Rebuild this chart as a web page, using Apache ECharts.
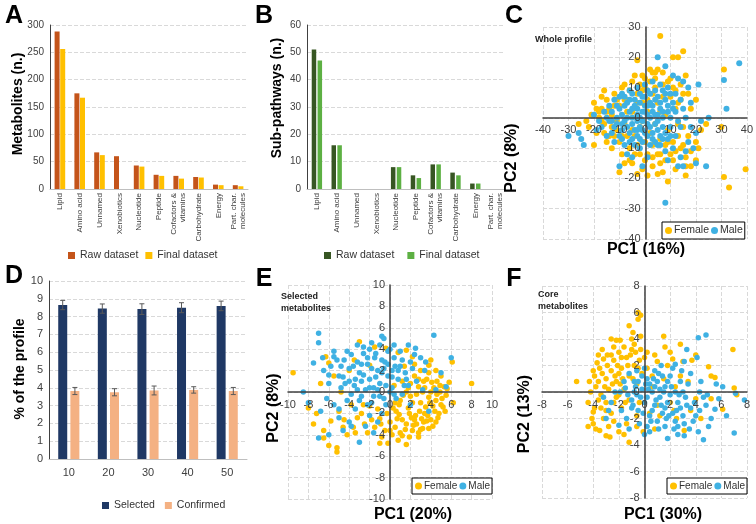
<!DOCTYPE html>
<html><head><meta charset="utf-8">
<script src="https://cdn.jsdelivr.net/npm/echarts@6/dist/echarts.min.js"></script>
<style>html,body{margin:0;padding:0;background:#fff}#c{width:756px;height:524px}</style>
</head><body><div id="c"></div>
<script>
// ---------- DATA ----------
var aCats = ['Lipid','Amino acid','Unnamed','Xenobiotics','Nucleotide','Peptide','Cofactors &\nvitamins','Carbohydrate','Energy','Part. char.\nmolecules'];
var aRaw = [288,175,67,60,43,26,24,22,8,7];
var aFinal = [256,167,62,0,41,24,19,21,7,5];
var bRaw = [51,16,0,0,8,5,9,6,2,0];
var bFinal = [47,16,0,0,8,4,9,5,2,0];
var dCats = ['10','20','30','40','50'];
var dSelected = [8.65,8.45,8.42,8.5,8.6];
var dSelectedErr = [0.26,0.26,0.3,0.28,0.27];
var dConfirmed = [3.82,3.75,3.85,3.88,3.82];
var dConfirmedErr = [0.2,0.2,0.25,0.18,0.2];

var cFemale = [[6,27],[15,22],[11,20],[13,20],[-3,19],[5,16],[7,15],[2,16],[3,15],[-1,14],[0,13],[4,13],[31,16],[16,14],[14,11],[17,8],[20,6],[18,3],[22,-4],[20,-8],[21,-10],[20,-14],[16,-16],[16,-19],[12,-17],[9,-21],[7,-18],[5,-18.5],[1,-19],[-1,-17],[-3,-18.5],[-10,-18],[3,-13],[-2,-12],[6,-12],[10,-12],[14,-10],[17,-6],[15,-3],[30,-3],[31,-19.5],[33,-23],[39.5,-17],[-26,-2],[-20,-9],[-22,-3],[-20,5],[-18,0],[-17,3],[-16,-2],[-15,6],[-14,-6],[-13,1],[-12,8],[-11,-4],[-10,4],[-10,-8],[-9,10],[-8,-2],[-7,6],[-6,-10],[-5,12],[-5,2],[-4,-6],[-3,8],[-2,-3],[-1,5],[0,-8],[0,10],[1,2],[2,-5],[3,8],[4,-2],[5,5],[6,-7],[7,11],[8,1],[9,-4],[10,7],[11,-8],[12,3],[13,-2],[-19,-5],[-17,7],[-15,-8],[-13,-10],[-12,4],[-9,-12],[-7,-6],[-6,9],[-4,-12],[-2,11],[1,-12],[2,12],[8,-9],[9,12],[12,9],[14,6],[-18,2],[-14,3],[-8,6],[-3,-9],[4,10],[11,-14],[-21,1],[-16,9],[-11,-1],[-1,-1],[6,2],[13,5],[15,-9],[-23,-1],[-8,-15],[18,-11],[24,-2],[-5,-15],[3,-16],[8,-14],[-19,3],[-17,-1],[-15,2],[-13,-3],[-11,6],[-9,-6],[-7,2],[-5,-4],[-3,5],[-1,9],[1,6],[3,-9],[5,-12],[7,7],[9,-8],[11,10],[13,-6],[15,8],[-16,-5],[-12,-6],[-8,11],[-4,14],[4,15],[10,13],[16,-13],[18,-16],[-6,-14],[0,-14],[6,-15],[12,-11]];
var cMale = [[37,18],[31,12.5],[32,3],[21,11],[25,0],[22,-1],[20,-15],[24,-16],[8,-28],[-30,-6],[-26,-5],[-25,-7],[-24,-9],[5,20],[8,17],[-10,-16],[-1,-16],[-2,-10],[13,-16],[15,-16],[-5,-13],[15,12],[13,13],[11,14],[17,10],[18,-3],[19,-10],[16,-11],[14,-13],[11,-10],[8,-11],[5,-9],[2,-9],[-1,-8],[-4,-9],[-8,-9],[-12,-8],[-15,-6],[-17,-3],[-18,-1],[-16,2],[-14,4],[-12,6],[-9,8],[-6,9],[-3,10],[0,11],[3,12],[6,11],[9,10],[12,8],[14,6],[15,3],[16,0],[14,-3],[12,-6],[9,-7],[6,-6],[3,-5],[0,-5],[-3,-6],[-6,-5],[-9,-4],[-12,-3],[-14,-1],[-13,2],[-10,3],[-7,5],[-4,6],[-1,7],[2,8],[5,7],[8,6],[11,5],[12,2],[13,-1],[10,-3],[7,-3],[4,-2],[1,-2],[-2,-3],[-5,-2],[-8,-1],[-11,0],[-9,1],[-6,2],[-3,3],[0,4],[3,4],[6,3],[9,2],[10,0],[7,0],[4,1],[1,1],[-2,0],[-5,0],[-7,-3],[-4,-4],[-1,-4],[2,-3],[5,-4],[8,-5],[-10,-6],[-6,-8],[-2,-7],[3,-7],[6,-9],[-15,0],[-13,-5],[-11,4],[-8,7],[-5,8],[-2,5],[1,9],[4,9],[7,9],[10,8],[0,2],[2,0],[-1,-1],[-3,1],[5,-1],[-19,-4],[-20,1],[18,5],[20,-5],[-7,-12],[1,-13],[9,-14],[17,-8],[-13,-1],[-11,-2],[-9,-2],[-7,0],[-5,3],[-3,-1],[-1,2],[1,4],[3,2],[5,1],[7,2],[9,4],[11,3],[-10,7],[-8,4],[-6,6],[-4,4],[-2,8],[0,7],[2,5],[4,6],[6,5],[8,8],[-9,-7],[-5,-7],[-3,-4],[1,-6],[4,-8],[7,-7],[10,-6]];

var eFemale = [[-9.5,1.8],[8,0.8],[6.1,2.8],[6.2,-1],[1.6,-4.9],[-5.2,-5.2],[-5.2,-5.6],[-6.5,-4.3],[-7.2,-2],[-6.3,3.3],[-3,4.7],[-1.5,4.2],[-0.4,4.1],[0.8,3.7],[1.6,3.9],[2.2,3.3],[3.8,2.5],[4.5,2],[5,1.5],[5.3,0.5],[5.5,-0.3],[5,-1.2],[4.8,-2],[4.5,-2.8],[3.8,-3.4],[3,-3.5],[2.2,-3.6],[1,-3.8],[0.2,-4],[-0.8,-4.2],[-1.5,-3.3],[-2.5,-3],[-3.6,-3.3],[-4.5,-2.6],[-5,-1.8],[-5.8,-2.7],[-6.5,-3.6],[-6.8,0.8],[-6,2.7],[-4.8,0],[-3.8,-1.2],[-2.8,-2],[-2,-1.3],[-1,-2.5],[0,-2.8],[0.6,-1.8],[1.2,-2.6],[1.8,-1.5],[2.5,-2.2],[3,-1],[3.4,-2],[3.8,-0.5],[4.2,-1.3],[4.3,0.4],[4.6,1],[3.6,1.2],[2.8,0.5],[2.4,1.5],[1.6,0],[1,-0.8],[0.4,0.6],[2,-0.4],[3.2,0],[4,0],[4.9,0],[2.6,-3],[3.6,-2.7],[1.6,-3],[0.5,-3.3],[-0.5,-3.6],[3,2],[4,3],[1.4,2.4],[-1.2,-1.6],[-2.2,-3.8],[-4.2,-4],[-3.2,-2.4],[5.4,-1.8],[4.2,-3.2],[2.8,-4.2],[0.8,-4.5],[-0.2,-4.8],[2,0.8],[2.8,1.2],[3.5,-1.4],[4.5,-0.8],[1.2,1],[3.3,-2.8],[-7.5,-3],[-8,-1.5],[-6,-5],[-4,2],[-2,2.5],[-5.5,1.5],[-3.5,3],[2.4,-2.6],[1.9,-2],[0.9,-1.2],[5.8,0.9],[0.5,-1],[1.3,-0.3],[2.2,-1],[2.9,-1.8],[3.7,-2.2],[4.4,-1.8],[5.1,-0.6],[4.7,-2.4],[3.9,-1],[3.1,-2.5],[2.3,-3.1],[1.5,-3.5],[0.7,-2.5],[0,-3.6],[-0.9,-3],[1.9,-4.2],[2.8,-3.8],[4,-2.6],[4.9,0.6],[4.1,0.9],[3.4,0.4],[2.6,-0.2],[1.8,0.4],[0.9,-2.1],[0.3,-1.5],[5.2,-1.4],[5.6,0.3],[4.6,-0.2],[3.8,1.8],[2.4,2.6],[3.2,-3.4],[1.2,-4.1],[-0.3,-2],[-1.8,-2.6],[-2.6,-1.2],[-3.4,-3.8],[-4.6,-3.3],[-1,-4.8],[3.3,1],[2.1,-2.4]];
var eMale = [[-7,5.5],[-7,4.6],[-5.5,3.8],[-5.5,3.3],[-7.5,2.7],[-8.5,0],[-6.5,2],[-6,0.8],[-7,-4.3],[-6,-4],[-3,-4.7],[-8,-1],[-5.5,-1.2],[4.3,5.3],[6,3.2],[5.5,0.5],[0,4],[-1.8,4.6],[-0.8,5.2],[-0.6,5],[2.5,4.1],[-5,1.5],[-4.5,3],[-4,2.2],[-3.8,3.5],[-3.2,2.8],[-3,1.8],[-2.6,3.6],[-2.2,2.6],[-2,1.2],[-1.5,3.2],[-1.2,2],[-1,0.8],[-0.5,2.8],[-0.2,1.5],[0.2,0.4],[0.5,2.4],[0.8,1.2],[1.2,3],[1.5,1.8],[1.8,0.6],[2.2,2.2],[2.6,1],[3,3.2],[3.5,2.8],[3.2,0.2],[-4.8,0.4],[-4.2,-0.8],[-3.5,0.6],[-2.8,-0.4],[-2.4,0.2],[-1.8,-1],[-1,-0.4],[-0.4,-1.2],[0,0],[0.6,-0.6],[1.2,-0.2],[-3.4,-1.6],[-2,-2.2],[-1.2,-2.8],[-4.6,1.4],[-3.8,-0.2],[-2.6,1.6],[-1.6,0.4],[-0.8,1.8],[0.4,3.2],[-0.2,3.8],[-4.2,3.8],[-2.6,4.2],[1,3.8],[2,2.8],[-5.8,2.4],[-6.2,-0.6],[-5,-2.4],[-4.6,-3.6],[-2.4,-3.2],[-1.6,-3.8],[-0.6,2.2],[0.2,2],[1.4,0.6],[-1.4,1.4],[-2.2,3.2],[-3.4,1.2],[3.8,-1.8],[4.5,0.2],[2,-1.2],[-5,-1.6],[-3.2,4.4],[-6.8,-1.8],[-4,-2.8],[3.4,2],[5,1.8],[-0.8,-2],[-6.6,3.2],[-6,1.6],[-3.6,2.4],[-2.8,1],[-2,0.4],[-1.2,0.2],[-0.4,0.6],[0.8,2],[-0.2,2.6],[-1.8,2.2],[-2.8,2.6],[-3.2,0.2],[-4,1],[-4.4,0.8],[-1.4,3.6],[-0.8,3],[0.2,1.4],[1,2.4],[-2.2,-1.2],[-3,-0.8],[-1.6,-0.4],[-0.6,-0.6],[0.4,-0.2],[1.6,1.2],[2.4,3.5],[-5.2,3],[-4.8,2.4],[-2,4],[-1,4.4],[0.4,4.4],[1.8,4.4],[-3.8,-3.2]];

var fFemale = [[-5.3,0.8],[-0.5,6],[-0.3,5.8],[-0.5,5.5],[-1.2,5],[-0.9,4.5],[-0.3,4.2],[-1,4],[-2.6,4],[-2.2,3.9],[-1.9,3.9],[1.5,4.2],[6.9,3.2],[5,1.9],[5.2,1.2],[5.5,1.1],[7,0.3],[7.2,-0.2],[5.2,-0.5],[6.1,-1.3],[-1.2,-3.8],[-3,-3.3],[-2,-3],[-4,-1.5],[-4,-2.4],[-3.8,-2.8],[-0.1,-3],[3.1,-2.9],[4,-0.5],[2.5,-2],[1.5,1],[1.8,2],[1,2.3],[0.8,2.8],[2,3],[2.2,2.5],[3,2.3],[3.7,2.4],[4,2.8],[2.4,0.4],[-3.5,1.8],[-3.2,2.5],[-3,1],[-2.8,0.2],[-2.6,1.6],[-2.4,2.4],[-2.2,0.8],[-2,3],[-1.8,1.8],[-1.6,0.2],[-1.4,2.6],[-1.2,1.2],[-1,3.2],[-0.8,2],[-0.6,0.6],[-0.4,2.4],[-0.2,1.4],[0,2.6],[0.2,1.8],[-3.8,0.4],[-3.6,-0.6],[-3.4,-1.2],[-3,-0.8],[-2.6,-1.6],[-2.2,-0.4],[-1.8,-1.2],[-3.9,1.2],[-3.3,3.2],[-2.9,2.8],[-1.6,3.4],[-2.4,-2.2],[-1.4,-2.4],[-3.2,-2],[-2.8,-2.6],[-0.6,-1.8],[0.4,-1.6],[1,-1],[-4.2,0],[-4.4,-0.8],[-3.7,2.2],[-2,1.4],[-1.2,-0.6],[-0.4,-0.8],[0.6,0.4],[1.2,-1.8],[2,-0.8],[2.8,1.2],[3.4,0.8],[0.2,3],[-0.8,3.6],[-4,1.6],[-4.1,-2],[-2.7,-3.4],[-1.6,-3.2],[-0.6,-2.6],[0.8,-2.8],[3.6,-1.4],[4.4,-2],[2.3,-1.4],[-2.4,3.4],[-3.6,0.8],[-3.3,1.4],[-2.9,2],[-2.5,0.6],[-2.1,2],[-1.7,1],[-1.3,2],[-0.9,1],[-0.5,1.8],[-3.4,-0.2],[-3,-1.4],[-2.4,-0.8],[-2.6,2.8],[-1.8,2.6],[-1.1,2.8],[-0.7,3],[-3.9,-1.2],[-4.3,0.8],[-3.1,0.4],[-2,-0.2],[-1.5,-0.8],[-2.3,1.2],[-1.9,0.6],[-3.6,2.8],[-0.3,3.2],[-4.4,-2.6],[-3.5,-2.9],[1.6,3.4],[2.8,3.6],[0.6,1.2]];
var fMale = [[4.8,4.3],[4.2,4.1],[3.3,3.2],[4.1,2.6],[3.1,2.3],[2.4,2.1],[1.3,2],[6.1,0.4],[7.1,-0.1],[7.8,-0.6],[5.8,-0.5],[4.3,0],[4.8,-1],[5.5,-1.3],[5,-2.6],[4.2,-3],[2.6,-3.2],[3.1,-3.3],[1.8,-3.5],[4.6,-3.6],[7,-3.1],[-2,-2.5],[-3,-2],[-2.3,0],[-1.5,0.3],[-1,-0.6],[-0.8,0.8],[-0.5,-1.4],[-0.2,0.2],[0,-0.8],[0.2,1],[0.4,-1.8],[0.6,0],[0.8,-1],[1,0.8],[1.2,-0.4],[1.4,-1.6],[1.6,0.4],[1.8,-0.8],[2,1.2],[2.2,-1.6],[2.4,0],[2.6,-0.8],[2.8,0.8],[3,-1.8],[3.2,-0.4],[3.4,0.6],[3.6,-1.2],[3.8,-2.2],[-1.8,-1.4],[-1.4,-2],[-1.2,1.4],[-0.6,1.6],[0,1.8],[0.4,0.6],[0.8,1.6],[-0.4,-2.4],[0.2,-2.6],[1,-2.2],[1.6,-2.6],[2.4,-2.2],[-0.6,-0.2],[0.2,-0.4],[1.2,0.2],[2,-0.2],[-1,-1.2],[0.6,-1.4],[1.6,-1.2],[2.8,-1.2],[-2.6,-0.8],[-1.6,0.8],[-0.2,1.2],[3.6,1.4],[4.4,0.8],[4,-1.8],[5.2,-2],[2.2,1.8],[1.8,0.8],[-1.2,-2.8],[0.4,-3],[2.6,-2.6],[4.6,-0.4],[6.4,-1.8],[3,0],[-2.8,-1.4],[-3.2,-0.4],[0.8,0.4],[1.4,1.2],[-0.8,0],[5.6,0.6],[-0.9,-1],[-0.3,-0.4],[0.3,0.2],[0.9,-0.6],[1.5,0],[2.1,0.4],[2.7,-0.2],[3.3,-1],[-0.7,0.4],[0.1,0.6],[0.7,1],[1.3,-1],[1.9,-1.8],[2.5,-1.4],[3.1,-2.4],[-0.1,-1.6],[0.5,-2.2],[1.1,-2.8],[1.7,-2],[2.3,-2.8],[-1.3,-0.2],[-1.9,0],[3.9,-0.8],[4.3,-1.4],[4.9,-0.2],[3.5,-2.8],[2.9,1.6],[0,-3.2],[-0.5,0.8],[1.1,1.4]];

// ---------- STYLE ----------
var FONT = 'Liberation Sans, Arial, sans-serif';
var FEMALE = '#FFC000', MALE = '#3FB1E3';
var GRIDC = '#D9D9D9', TXT = '#404040';
var GRIDS = [
  {left:50, top:25, width:198, height:164},
  {left:307, top:25, width:198, height:164},
  {left:543, top:27, width:205, height:212},
  {left:49, top:281, width:198, height:178},
  {left:288, top:285, width:204, height:214},
  {left:542, top:286, width:205, height:212}
];

function catX(gi, data, rot) {
  return {type:'category', gridIndex:gi, data:data,
    axisLine:{show:true, lineStyle:{color:'#BFBFBF'}}, axisTick:{show:false},
    axisLabel: rot ? {rotate:90, interval:0, fontSize:8, color:TXT, margin:4, lineHeight:9, fontFamily:FONT}
                   : {fontSize:11, color:TXT, margin:8, fontFamily:FONT}};
}
function valY(gi, max, interval, fs) {
  return {type:'value', gridIndex:gi, min:0, max:max, interval:interval,
    axisLine:{show:true, lineStyle:{color:'#404040'}}, axisTick:{show:false},
    axisLabel:{fontSize:fs, color:TXT, margin:6, fontFamily:FONT},
    splitLine:{show:true, lineStyle:{color:GRIDC, type:'dashed'}}};
}
// scatter grid axis: dashed grid only (below the points)
function sGrid(gi, dim, min, max, interval) {
  return {type:'value', gridIndex:gi, min:min, max:max, interval:interval, z:0,
    position: dim === 'x' ? 'bottom' : 'left',
    axisLine:{show:false}, axisTick:{show:false}, axisLabel:{show:false},
    splitLine:{show:true, lineStyle:{color:GRIDC, type:'dashed'}}};
}
// scatter axis line + labels, crossing at the other axis' zero, drawn above the points
function sAxis(gi, dim, min, max, interval, oMin, oMax) {
  var g = GRIDS[gi];
  var span = dim === 'x' ? g.height : g.width;
  var off = -span * (0 - oMin) / (oMax - oMin);
  return {type:'value', gridIndex:gi, min:min, max:max, interval:interval, z:10,
    position: dim === 'x' ? 'bottom' : 'left', offset: off,
    axisLine:{show:true, onZero:false, lineStyle:{color:'#404040', width:1.5}}, axisTick:{show:false},
    axisLabel:{fontSize:11, color:TXT, margin: dim === 'x' ? 7 : 5, fontFamily:FONT},
    splitLine:{show:false}};
}
function scat(name, gi, data, color, size) {
  return {type:'scatter', name:name, xAxisIndex:gi, yAxisIndex:gi, data:data, symbolSize:size,
    itemStyle:{color:color, opacity:1}};
}
function errBar(name, vals, errs, off) {
  return {type:'custom', name:name, xAxisIndex:3, yAxisIndex:3, z:5,
    data: vals.map(function(v,i){return [i, v-errs[i], v+errs[i]];}),
    encode:{x:0, y:[1,2]},
    renderItem:function(p, api){
      var i = api.value(0);
      var lo = api.coord([i, api.value(1)]), hi = api.coord([i, api.value(2)]);
      var x = lo[0] + off, c = 2.5;
      var st = {stroke:'#595959', lineWidth:1};
      return {type:'group', children:[
        {type:'line', shape:{x1:x, y1:lo[1], x2:x, y2:hi[1]}, style:st},
        {type:'line', shape:{x1:x-c, y1:lo[1], x2:x+c, y2:lo[1]}, style:st},
        {type:'line', shape:{x1:x-c, y1:hi[1], x2:x+c, y2:hi[1]}, style:st}]};
    }};
}
function lbl(text, x, y, size, rot, align) {
  return {type:'text', x:x, y:y, rotation:rot||0, z:100,
    style:{text:text, font:'bold '+size+'px '+FONT, fill:'#000', align:align||'center', verticalAlign:'middle'}};
}
function small(text, x, y) {
  return {type:'text', x:x, y:y, z:100,
    style:{text:text, font:'bold 9px '+FONT, fill:'#222', align:'left', verticalAlign:'middle', lineHeight:12}};
}
function strip(n){ return n.split('|')[0]; }
function sLegend(data, left, top, fs) {
  return {data:data, left:left, top:top, icon:'circle', itemWidth:7, itemHeight:7, itemGap:2,
    formatter:strip, borderColor:'#000', borderWidth:1, backgroundColor:'#fff', padding:[3,2,3,3],
    textStyle:{fontSize:fs, color:'#333', fontFamily:FONT, padding:[0,0,0,-3]}, selectedMode:false};
}

var option = {
  animation:false,
  textStyle:{fontFamily:FONT},
  grid: GRIDS,
  xAxis:[
    catX(0, aCats, true), catX(1, aCats, true), sGrid(2,'x',-40,40,10),
    catX(3, dCats, false), sGrid(4,'x',-10,10,2), sGrid(5,'x',-8,8,2),
    sAxis(2,'x',-40,40,10,-40,30), sAxis(4,'x',-10,10,2,-10,10), sAxis(5,'x',-8,8,2,-8,8)
  ],
  yAxis:[
    valY(0,300,50,10), valY(1,60,10,10), sGrid(2,'y',-40,30,10),
    valY(3,10,1,11), sGrid(4,'y',-10,10,2), sGrid(5,'y',-8,8,2),
    sAxis(2,'y',-40,30,10,-40,40), sAxis(4,'y',-10,10,2,-10,10), sAxis(5,'y',-8,8,2,-8,8)
  ],
  legend:[
    {data:['Raw dataset|A','Final dataset|A'], left:63, top:245, icon:'rect', itemWidth:7, itemHeight:7, itemGap:7,
      formatter:strip, textStyle:{fontSize:10.5, color:'#333', fontFamily:FONT}, selectedMode:false},
    {data:['Raw dataset|B','Final dataset|B'], left:319, top:245, icon:'rect', itemWidth:7, itemHeight:7, itemGap:13,
      formatter:strip, textStyle:{fontSize:10.5, color:'#333', fontFamily:FONT}, selectedMode:false},
    {data:['Selected|D','Confirmed|D'], left:97, top:495, icon:'rect', itemWidth:7, itemHeight:7, itemGap:10,
      formatter:strip, textStyle:{fontSize:10.5, color:'#333', fontFamily:FONT}, selectedMode:false},
    sLegend(['Female|C','Male|C'], 662, 222, 10.5),
    sLegend(['Female|E','Male|E'], 412, 478, 10),
    sLegend(['Female|F','Male|F'], 667, 478, 10)
  ],
  series:[
    {type:'bar', name:'Raw dataset|A', xAxisIndex:0, yAxisIndex:0, data:aRaw, barWidth:5, barGap:'12%', itemStyle:{color:'#C4541A'}},
    {type:'bar', name:'Final dataset|A', xAxisIndex:0, yAxisIndex:0, data:aFinal, barWidth:5, itemStyle:{color:'#FFC000'}},
    {type:'bar', name:'Raw dataset|B', xAxisIndex:1, yAxisIndex:1, data:bRaw, barWidth:4.5, barGap:'30%', itemStyle:{color:'#375623'}},
    {type:'bar', name:'Final dataset|B', xAxisIndex:1, yAxisIndex:1, data:bFinal, barWidth:4.5, itemStyle:{color:'#5DB043'}},
    {type:'bar', name:'Selected|D', xAxisIndex:3, yAxisIndex:3, data:dSelected, barWidth:9, barGap:'35%', itemStyle:{color:'#1F3864'}},
    {type:'bar', name:'Confirmed|D', xAxisIndex:3, yAxisIndex:3, data:dConfirmed, barWidth:9, itemStyle:{color:'#F4B183'}},
    errBar('errSel', dSelected, dSelectedErr, -6.1),
    errBar('errConf', dConfirmed, dConfirmedErr, 6.1),
    scat('Female|C', 2, cFemale, FEMALE, 6), scat('Male|C', 2, cMale, MALE, 6),
    scat('Female|E', 4, eFemale, FEMALE, 5.5), scat('Male|E', 4, eMale, MALE, 5.5),
    scat('Female|F', 5, fFemale, FEMALE, 5.5), scat('Male|F', 5, fMale, MALE, 5.5)
  ],
  graphic:[
    lbl('A', 14, 16, 25), lbl('B', 264, 16, 25), lbl('C', 514, 16, 25),
    lbl('D', 14, 276, 25), lbl('E', 264, 279, 25), lbl('F', 514, 279, 25),
    lbl('Metabolites (n.)', 18, 104, 14, Math.PI/2),
    lbl('Sub-pathways (n.)', 277, 98, 14, Math.PI/2),
    lbl('% of the profile', 20, 369, 14, Math.PI/2),
    lbl('PC1 (16%)', 646, 250, 16), lbl('PC2 (8%)', 512, 158, 16, Math.PI/2),
    lbl('PC1 (20%)', 413, 515, 16), lbl('PC2 (8%)', 274, 408, 16, Math.PI/2),
    lbl('PC1 (30%)', 663, 515, 16), lbl('PC2 (13%)', 525, 414, 16, Math.PI/2),
    small('Whole profile', 535, 40),
    small('Selected\nmetabolites', 281, 303),
    small('Core\nmetabolites', 538, 301)
  ]
};
var chart = echarts.init(document.getElementById('c'), null, {renderer:'canvas'});
chart.setOption(option);
</script></body></html>
